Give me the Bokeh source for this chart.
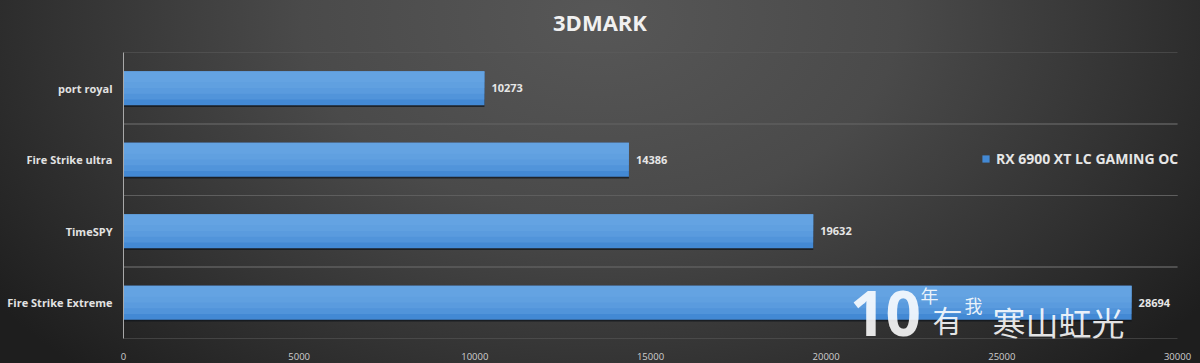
from bokeh.plotting import figure
from bokeh.layouts import column
from bokeh.models import (FactorRange, Range1d, FixedTicker, LabelSet, Label, Div,
                          ColumnDataSource, Legend, LegendItem)
from bokeh.core.properties import value
from bokeh.transform import dodge
from bokeh.embed import file_html
from bokeh.resources import INLINE

title = "3DMARK"
series_name = "RX 6900 XT LC GAMING OC"
categories = ["port royal", "Fire Strike ultra", "TimeSPY", "Fire Strike Extreme"]
scores = [10273, 14386, 19632, 28694]
x_ticks = [0, 5000, 10000, 15000, 20000, 25000, 30000]

FONT = "Open Sans"
src = ColumnDataSource(dict(cat=categories, val=scores, lbl=[str(v) for v in scores],
                            x0=[0] * len(scores), x1=[x_ticks[-1]] * len(scores)))

TITLE_H = 44
head = Div(text=title, width=1200, height=TITLE_H,
           styles={"font-family": "Open Sans", "font-size": "22px", "font-weight": "bold",
                   "color": "#f0f0f0", "text-align": "center", "line-height": f"{TITLE_H}px",
                   "width": "1200px", "margin": "0", "padding": "0"})

p = figure(width=1200, height=363 - TITLE_H, output_backend="svg", toolbar_location=None,
           y_range=FactorRange(factors=categories[::-1]),
           x_range=Range1d(0, x_ticks[-1] * (1198 - 123) / (1177 - 123)),
           min_border_left=123, min_border_right=2, min_border_top=52 - TITLE_H, min_border_bottom=25)

p.border_fill_alpha = 0
p.background_fill_alpha = 0
p.outline_line_color = None
p.xgrid.grid_line_color = None
p.ygrid.grid_line_color = None

# category separators (bottom and top edge of every category band)
for off in (-0.5, 0.5):
    p.segment(x0="x0", x1="x1", y0=dodge("cat", off, range=p.y_range),
              y1=dodge("cat", off, range=p.y_range), source=src,
              line_color="#5e5e5e", line_width=1)

# bars: shadow, main, highlight bands (approximate vertical gradient)
p.hbar(y=dodge("cat", -0.025, range=p.y_range), right="val", left=0, height=0.475, source=src,
       fill_color="#10151c", fill_alpha=0.75, line_color=None)
main = p.hbar(y="cat", right="val", left=0, height=0.475, source=src,
              fill_color="#4389d4", line_color=None)
for off, h, a in ((0.04, 0.395, 0.35), (0.08, 0.315, 0.35), (0.12, 0.235, 0.35), (0.16, 0.155, 0.35)):
    p.hbar(y=dodge("cat", off, range=p.y_range), right="val", left=0, height=h, source=src,
           fill_color="#6eaae6", fill_alpha=a, line_color=None)

p.add_layout(LabelSet(x="val", y="cat", text="lbl", source=src, x_offset=7,
                      text_baseline="middle", text_align="left",
                      text_font=value(FONT), text_font_size=value("11px"), text_font_style="bold",
                      text_color="#e6e6e6"))

# axes
p.xaxis.ticker = FixedTicker(ticks=x_ticks)
p.xaxis.axis_line_color = None
p.xaxis.major_tick_line_color = None
p.xaxis.minor_tick_line_color = None
p.xaxis.major_label_text_font = FONT
p.xaxis.major_label_text_font_size = "9.5px"
p.xaxis.major_label_text_color = "#cfcfcf"
p.xaxis.major_label_standoff = 8

p.yaxis.axis_line_color = "#a8a8a8"
p.yaxis.major_tick_line_color = None
p.yaxis.minor_tick_line_color = None
p.yaxis.major_label_text_font = FONT
p.yaxis.major_label_text_font_size = "11px"
p.yaxis.major_label_text_font_style = "bold"
p.yaxis.major_label_text_color = "#e2e2e2"
p.yaxis.major_label_standoff = 5

# legend
legend = Legend(items=[LegendItem(label=series_name, renderers=[main])],
                location=(858, 170), orientation="vertical",
                glyph_width=9, glyph_height=9, label_standoff=6, padding=0, margin=0,
                spacing=0, background_fill_alpha=0, border_line_color=None,
                label_text_font=FONT, label_text_font_size="14px",
                label_text_font_style="bold", label_text_color="#e6e6e6")
p.add_layout(legend)

# watermark
wm = dict(x_units="screen", y_units="screen", text_color="#ffffff", text_alpha=0.88)
p.add_layout(Label(x=885 - 123, y=338 - 313, text="10", text_align="center", text_baseline="middle",
                   text_font="Noto Sans", text_font_size="62px", text_font_style="bold", **wm))
p.add_layout(Label(x=929 - 123, y=338 - 294, text="年", text_align="center", text_baseline="middle",
                   text_font="Noto Sans CJK SC", text_font_size="18px", **wm))
p.add_layout(Label(x=947 - 123, y=338 - 318, text="有", text_align="center", text_baseline="middle",
                   text_font="Noto Sans CJK SC", text_font_size="30px", **wm))
p.add_layout(Label(x=973 - 123, y=338 - 304, text="我", text_align="center", text_baseline="middle",
                   text_font="Noto Sans CJK SC", text_font_size="18px", **wm))
p.add_layout(Label(x=1058 - 123, y=338 - 321, text="寒山虹光", text_align="center", text_baseline="middle",
                   text_font="Noto Sans CJK SC", text_font_size="33px", **wm))

layout = column(head, p, width=1200, height=363, spacing=0,
                styles={"background": "radial-gradient(ellipse 62% 135% at 50% 5%, #575757 0%, #4a4a4a 40%, #333333 72%, #1e1e1e 100%)"})

open("out.html", "w").write(file_html(layout, INLINE))
